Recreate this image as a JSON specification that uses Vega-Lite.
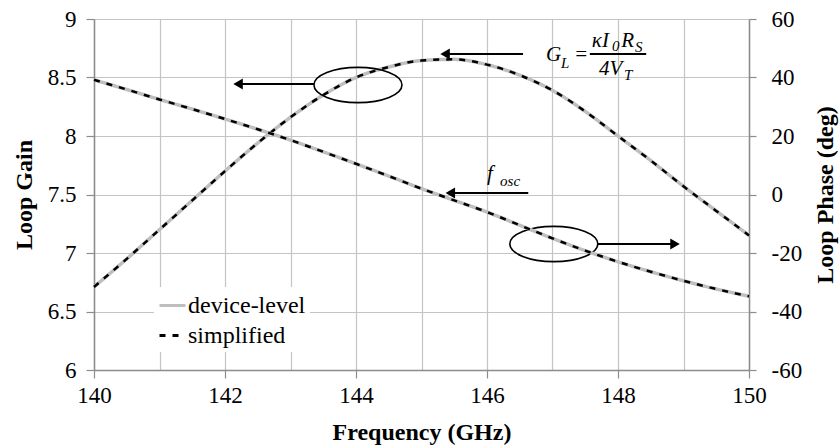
{
  "$schema": "https://vega.github.io/schema/vega-lite/v6.json",
  "width": 655,
  "height": 351,
  "autosize": "none",
  "padding": {"left": 94, "top": 19, "right": 91, "bottom": 78},
  "background": "white",
  "config": {
    "font": "Liberation Serif, Times New Roman, serif",
    "view": {"stroke": null},
    "axis": {
      "labelFont": "Liberation Serif, Times New Roman, serif",
      "titleFont": "Liberation Serif, Times New Roman, serif",
      "labelFontSize": 23,
      "titleFontSize": 24,
      "titleFontWeight": "bold",
      "labelColor": "#000000",
      "titleColor": "#000000",
      "domainColor": "#8c8c8c",
      "tickColor": "#8c8c8c",
      "gridColor": "#c4c4c4",
      "gridWidth": 1.2,
      "domainWidth": 1.5,
      "tickWidth": 1.2,
      "tickSize": 8
    },
    "legend": {
      "labelFont": "Liberation Serif, Times New Roman, serif",
      "labelFontSize": 24,
      "labelColor": "#000000"
    }
  },
  "datasets": {
    "curve": [
      {"freq": 140, "gain": 6.71, "phase": 39.2},
      {"freq": 140.5, "gain": 6.95, "phase": 35.9},
      {"freq": 141, "gain": 7.2, "phase": 32.5},
      {"freq": 141.5, "gain": 7.45, "phase": 29.2},
      {"freq": 142, "gain": 7.7, "phase": 25.8},
      {"freq": 142.5, "gain": 7.94, "phase": 22.3},
      {"freq": 143, "gain": 8.16, "phase": 18.6},
      {"freq": 143.5, "gain": 8.35, "phase": 14.6},
      {"freq": 144, "gain": 8.5, "phase": 10.5},
      {"freq": 144.5, "gain": 8.59, "phase": 6.3},
      {"freq": 145, "gain": 8.645, "phase": 2.0},
      {"freq": 145.5, "gain": 8.655, "phase": -2.0},
      {"freq": 146, "gain": 8.61, "phase": -6.0},
      {"freq": 146.5, "gain": 8.52, "phase": -10.5},
      {"freq": 147, "gain": 8.39, "phase": -15.0},
      {"freq": 147.5, "gain": 8.21, "phase": -19.2},
      {"freq": 148, "gain": 8.0, "phase": -23.0},
      {"freq": 148.5, "gain": 7.79, "phase": -26.4},
      {"freq": 149, "gain": 7.57, "phase": -29.5},
      {"freq": 149.5, "gain": 7.36, "phase": -32.3},
      {"freq": 150, "gain": 7.15, "phase": -34.8}
    ],
    "rules": [
      {"from": 145.36, "to": 146.55, "gain": 8.70},
      {"from": 145.44, "to": 146.63, "gain": 7.513},
      {"from": 142.2, "to": 143.36, "gain": 8.444},
      {"from": 147.69, "to": 148.87, "gain": 7.077},
      {"from": 147.57, "to": 148.43, "gain": 8.70}
    ],
    "heads": [
      {"freq": 145.36, "gain": 8.70, "dir": "left"},
      {"freq": 145.44, "gain": 7.513, "dir": "left"},
      {"freq": 142.2, "gain": 8.444, "dir": "left"},
      {"freq": 148.87, "gain": 7.077, "dir": "right"}
    ],
    "ellipses": [
      {"freq": 144.03, "gain": 8.436},
      {"freq": 147.02, "gain": 7.077}
    ],
    "labels": [
      {"freq": 146.9, "gain": 8.641, "text": "G", "role": "main"},
      {"freq": 147.13, "gain": 8.581, "text": "L", "role": "sub"},
      {"freq": 147.33, "gain": 8.641, "text": "=", "role": "main"},
      {"freq": 147.6, "gain": 8.761, "text": "κI", "role": "main"},
      {"freq": 147.91, "gain": 8.726, "text": "0", "role": "sub"},
      {"freq": 148.05, "gain": 8.761, "text": "R", "role": "main"},
      {"freq": 148.26, "gain": 8.718, "text": "S", "role": "sub"},
      {"freq": 147.71, "gain": 8.521, "text": "4V", "role": "main"},
      {"freq": 148.09, "gain": 8.479, "text": "T", "role": "sub"},
      {"freq": 146.0, "gain": 7.624, "text": "f", "role": "main"},
      {"freq": 146.2, "gain": 7.573, "text": "osc", "role": "sub"}
    ]
  },
  "layer": [
    {
      "layer": [
        {
          "data": {"name": "curve"},
          "mark": {"type": "line", "strokeWidth": 3.5, "interpolate": "monotone"},
          "encoding": {
            "x": {
              "field": "freq", "type": "quantitative",
              "scale": {"domain": [140, 150], "nice": false, "zero": false},
              "axis": {
                "values": [140, 141, 142, 143, 144, 145, 146, 147, 148, 149, 150],
                "labelExpr": "datum.value % 2 == 0 ? '' + datum.value : ''",
                "tickOpacity": {"condition": {"test": "datum.value % 2 != 0", "value": 0}, "value": 1},
                "title": "Frequency (GHz)",
                "labelPadding": 6,
                "titleY": 62,
                "titleBaseline": "middle",
                "labelFlush": false
              }
            },
            "y": {
              "field": "gain", "type": "quantitative",
              "scale": {"domain": [6, 9], "nice": false, "zero": false},
              "axis": {
                "values": [6, 6.5, 7, 7.5, 8, 8.5, 9],
                "labelExpr": "'' + datum.value",
                "title": "Loop Gain",
                "labelPadding": 10,
                "titleX": -70,
                "titleY": 175.5,
                "titleAngle": 270,
                "titleAlign": "center",
                "titleBaseline": "middle",
                "labelFlush": false
              }
            },
            "color": {
              "datum": "device-level",
              "scale": {"domain": ["device-level", "simplified"], "range": ["#bfbfbf", "#000000"]},
              "legend": {
                "title": null,
                "orient": "none",
                "legendX": 60,
                "legendY": 268,
                "symbolType": "stroke",
                "symbolSize": 676,
                "symbolStrokeWidth": 3,
                "labelOffset": 1,
                "rowPadding": 3,
                "padding": 4,
                "fillColor": "white"
              }
            },
            "strokeDash": {
              "datum": "device-level",
              "scale": {"domain": ["device-level", "simplified"], "range": [[1, 0], [6, 7]]},
              "legend": {
                "title": null,
                "orient": "none",
                "legendX": 60,
                "legendY": 268,
                "symbolType": "stroke",
                "symbolSize": 676,
                "symbolStrokeWidth": 3,
                "labelOffset": 1,
                "rowPadding": 3,
                "padding": 4,
                "fillColor": "white"
              }
            }
          }
        },
        {
          "data": {"name": "curve"},
          "mark": {"type": "line", "strokeWidth": 2.5, "interpolate": "monotone", "strokeDash": [11, 7]},
          "encoding": {
            "x": {"field": "freq", "type": "quantitative"},
            "y": {"field": "gain", "type": "quantitative"},
            "color": {"datum": "simplified"},
            "strokeDash": {"datum": "simplified"}
          }
        },
        {
          "mark": {"type": "rule", "color": "#000000", "strokeWidth": 1.5, "strokeDash": [1.5, 2]},
          "encoding": {"x": {"datum": 145.25, "type": "quantitative"}}
        },
        {
          "data": {"name": "rules"},
          "mark": {"type": "rule", "color": "#000000", "strokeWidth": 2},
          "encoding": {
            "x": {"field": "from", "type": "quantitative"},
            "x2": {"field": "to"},
            "y": {"field": "gain", "type": "quantitative"}
          }
        },
        {
          "data": {"name": "heads"},
          "mark": {"type": "point", "filled": true, "color": "#000000", "size": 120, "opacity": 1},
          "encoding": {
            "x": {"field": "freq", "type": "quantitative"},
            "y": {"field": "gain", "type": "quantitative"},
            "shape": {
              "field": "dir", "type": "nominal",
              "scale": {"domain": ["left", "right"], "range": ["triangle-left", "triangle-right"]},
              "legend": null
            }
          }
        },
        {
          "data": {"name": "ellipses"},
          "mark": {
            "type": "point", "filled": false, "color": "#000000", "strokeWidth": 1.6, "opacity": 1,
            "size": 7744,
            "shape": "M -1 0 C -1 -0.2209 -0.5523 -0.4 0 -0.4 C 0.5523 -0.4 1 -0.2209 1 0 C 1 0.2209 0.5523 0.4 0 0.4 C -0.5523 0.4 -1 0.2209 -1 0 Z"
          },
          "encoding": {
            "x": {"field": "freq", "type": "quantitative"},
            "y": {"field": "gain", "type": "quantitative"}
          }
        },
        {
          "data": {"name": "labels"},
          "transform": [{"filter": "datum.role == 'main'"}],
          "mark": {"type": "text", "align": "left", "baseline": "alphabetic", "fontSize": 21, "fontStyle": "italic", "font": "Liberation Serif, Times New Roman, serif", "color": "#000000"},
          "encoding": {
            "x": {"field": "freq", "type": "quantitative"},
            "y": {"field": "gain", "type": "quantitative"},
            "text": {"field": "text"}
          }
        },
        {
          "data": {"name": "labels"},
          "transform": [{"filter": "datum.role == 'sub'"}],
          "mark": {"type": "text", "align": "left", "baseline": "alphabetic", "fontSize": 15, "fontStyle": "italic", "font": "Liberation Serif, Times New Roman, serif", "color": "#000000"},
          "encoding": {
            "x": {"field": "freq", "type": "quantitative"},
            "y": {"field": "gain", "type": "quantitative"},
            "text": {"field": "text"}
          }
        }
      ]
    },
    {
      "layer": [
        {
          "data": {"name": "curve"},
          "mark": {"type": "line", "strokeWidth": 3.5, "interpolate": "monotone"},
          "encoding": {
            "x": {"field": "freq", "type": "quantitative"},
            "y": {
              "field": "phase", "type": "quantitative",
              "scale": {"domain": [-60, 60], "nice": false, "zero": false},
              "axis": {
                "orient": "right",
                "values": [-60, -40, -20, 0, 20, 40, 60],
                "labelExpr": "'' + datum.value",
                "title": "Loop Phase (deg)",
                "titleAngle": 270,
                "titleX": 76,
                "titleY": 175.5,
                "titleAlign": "center",
                "titleBaseline": "middle",
                "grid": false,
                "tickSize": 7,
                "labelPadding": 15,
                "labelFlush": false
              }
            },
            "color": {"datum": "device-level"},
            "strokeDash": {"datum": "device-level"}
          }
        },
        {
          "data": {"name": "curve"},
          "mark": {"type": "line", "strokeWidth": 2.5, "interpolate": "monotone", "strokeDash": [11, 7]},
          "encoding": {
            "x": {"field": "freq", "type": "quantitative"},
            "y": {"field": "phase", "type": "quantitative"},
            "color": {"datum": "simplified"},
            "strokeDash": {"datum": "simplified"}
          }
        }
      ]
    }
  ],
  "resolve": {"scale": {"y": "independent"}}
}
